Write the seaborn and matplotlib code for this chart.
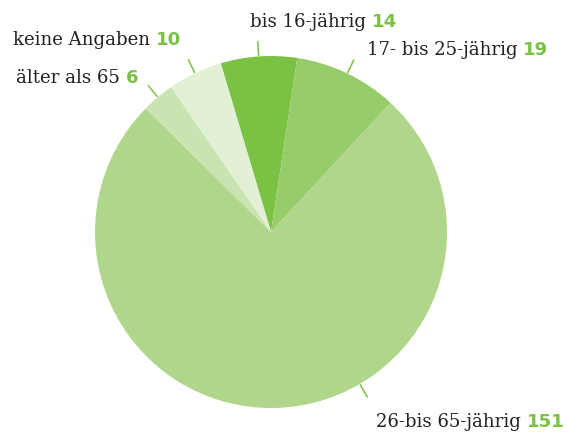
import numpy as np
import matplotlib
matplotlib.use("Agg")
import matplotlib.pyplot as plt
import seaborn as sns

# Daten
labels = ["bis 16-jährig", "17- bis 25-jährig", "26-bis 65-jährig", "älter als 65", "keine Angaben"]
werte = [14, 19, 151, 6, 10]
farben = ["#7bc143", "#97cc6a", "#b0d68c", "#c9e4b0", "#e2f0d6"]

# Layout (Pixel, Bild 570x435)
W, H = 570, 435
cx, cy, r = 271, 233, 176
start = 106.6
text_pos = [(250, 27), (367, 55), (376, 427), (16, 83), (13, 45)]
leader_winkel = [None, None, -59.7, None, None]

sns.set_style("white")
plt.rcParams["font.family"] = ["DejaVu Serif"]

fig = plt.figure(figsize=(W / 100, H / 100), dpi=100)
ax = fig.add_axes([0, 0, 1, 1])

wedges, _ = ax.pie(werte, colors=farben, startangle=start, counterclock=False,
                   center=(cx, H - cy), radius=r,
                   wedgeprops=dict(linewidth=0))
ax.set_xlim(0, W)
ax.set_ylim(0, H)
ax.set_aspect("equal")
ax.axis("off")

# Leader-Linien
for w, lw in zip(wedges, leader_winkel):
    a = lw if lw is not None else (w.theta1 + w.theta2) / 2
    t = np.deg2rad(a)
    xs = [cx + (r + 1) * np.cos(t), cx + (r + 15) * np.cos(t)]
    ys = [H - cy + (r + 1) * np.sin(t), H - cy + (r + 15) * np.sin(t)]
    ax.plot(xs, ys, color="#7bc143", lw=1.1)

# Beschriftungen
fig.canvas.draw()
renderer = fig.canvas.get_renderer()
for lab, val, (x, y) in zip(labels, werte, text_pos):
    t = ax.text(x, H - y, lab + " ", color="#222222", fontsize=13.1,
                ha="left", va="baseline")
    bb = t.get_window_extent(renderer)
    ax.text(bb.x1, H - y, str(val), color="#7bc143", fontsize=13.1,
            fontweight="bold", family="DejaVu Sans", ha="left", va="baseline")

fig.savefig("out.png", dpi=100)
